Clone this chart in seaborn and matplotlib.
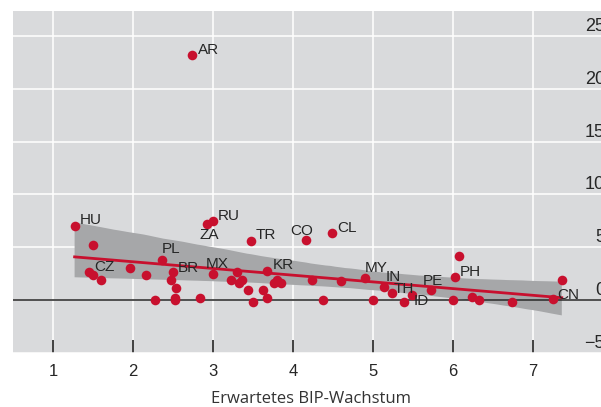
import numpy as np
import pandas as pd
import matplotlib
matplotlib.use("Agg")
import matplotlib.pyplot as plt
import seaborn as sns
from matplotlib.collections import PolyCollection

# data
growth = [1.27, 1.50, 1.45, 1.50, 1.60, 1.96, 2.16, 2.36, 2.28, 2.50,
          2.48, 2.54, 2.53, 2.53, 2.74, 2.84, 2.93, 3.00, 3.00, 3.22,
          3.30, 3.32, 3.36, 3.44, 3.47, 3.50, 3.63, 3.68, 3.68, 3.76,
          3.80, 3.85, 4.16, 4.24, 4.38, 4.49, 4.60, 4.90, 5.00, 5.14,
          5.24, 5.39, 5.49, 5.72, 6.00, 6.02, 6.08, 6.24, 6.33, 6.74,
          7.25, 7.36]
values = [7.0, 5.2, 2.67, 2.36, 1.92, 3.02, 2.42, 3.84, 0.0, 2.70,
          1.89, 1.13, 0.25, 0.0, 23.2, 0.19, 7.17, 7.48, 2.45, 1.92,
          2.70, 1.67, 1.86, 0.94, 5.57, -0.19, 1.00, 0.19, 2.74, 1.6,
          1.9, 1.6, 5.69, 1.89, 0.0, 6.38, 1.82, 2.10, 0.0, 1.29,
          0.66, -0.19, 0.50, 0.94, 0.0, 2.23, 4.18, 0.28, 0.0, -0.19,
          0.1, 1.89]
codes = ["HU", "", "CZ", "", "", "", "", "PL", "", "BR",
         "", "", "", "", "AR", "", "ZA", "RU", "MX", "",
         "", "", "", "", "TR", "", "", "", "KR", "",
         "", "", "CO", "", "", "CL", "", "MY", "", "IN",
         "TH", "", "ID", "PE", "", "PH", "", "", "", "",
         "CN", ""]
y_ticks = [25, 20, 15, 10, 5, 0, -5]
x_ticks = [1, 2, 3, 4, 5, 6, 7]

df = pd.DataFrame({"growth": growth, "value": values, "code": codes})

# label placement (pixels from the point, alignment)
label_pos = {
    "AR": (6, 5, "left"), "HU": (5, 6, "left"), "CZ": (5, 5, "left"),
    "PL": (0, 11, "left"), "BR": (5, 4, "left"), "MX": (4, 10.5, "center"),
    "RU": (5, 5, "left"), "ZA": (2, -10.5, "center"), "TR": (5, 6, "left"),
    "CO": (-4.5, 9, "center"), "CL": (5, 5, "left"), "KR": (5, 6, "left"),
    "MY": (0, 10, "left"), "IN": (1, 10, "left"), "TH": (1, 4, "left"),
    "ID": (1, -6, "left"), "PE": (2, 9.5, "center"), "PH": (5, 5, "left"),
    "CN": (4, 4, "left"),
}

red = "#c8102e"
bg = "#d9dadc"
band = "#a6a7a9"
txt = "#262626"

plt.rcParams["font.family"] = ["Liberation Sans", "DejaVu Sans"]

fig = plt.figure(figsize=(6.01, 4.07), dpi=100)
# axes runs past the right edge of the figure, like the cropped original
ax = fig.add_axes([13 / 601, 54 / 407, 607 / 601, 342 / 407])
ax.set_facecolor(bg)

sns.regplot(data=df, x="growth", y="value", ax=ax, color=red, ci=99,
            n_boot=5000, seed=3, truncate=True,
            scatter_kws=dict(s=48, linewidths=0, alpha=1, zorder=4),
            line_kws=dict(lw=2, zorder=3))

for c in ax.collections:
    if isinstance(c, PolyCollection):
        c.set_facecolor(band)
        c.set_edgecolor("none")
        c.set_alpha(1)
        c.set_zorder(1.5)

ax.axhline(0, color="#333333", lw=1.2, zorder=2.5)

ax.set_xlim(0.5, 0.5 + 607 / 80)
ax.set_ylim(-4.906, 27.36)
ax.set_xticks(x_ticks)
ax.set_yticks(y_ticks)
ax.grid(color="white", lw=1.1)
ax.set_axisbelow(True)
for s in ax.spines.values():
    s.set_visible(False)

ax.tick_params(axis="x", direction="in", length=9.5, width=1.2,
               color="#222222", labelsize=12, labelcolor=txt, pad=8)
ax.tick_params(axis="y", length=0, labelleft=False, labelright=False)

for v in y_ticks:
    lab = str(v) if v >= 0 else "\u2212" + str(-v)
    ax.annotate(lab, xy=(1, v), xycoords=("axes fraction", "data"),
                xytext=(-15, 5), textcoords="offset pixels",
                ha="right", va="baseline", fontsize=13, color=txt)

for x, y, c in zip(growth, values, codes):
    if c:
        dx, dy, ha = label_pos[c]
        ax.annotate(c, xy=(x, y), xytext=(dx, dy), textcoords="offset pixels",
                    ha=ha, va="center", fontsize=11, color=txt, zorder=5)

ax.set_xlabel("Erwartetes BIP-Wachstum", fontsize=12, color="#333333",
              family=["Open Sans", "DejaVu Sans"])
ax.set_ylabel("")
ax.xaxis.set_label_coords((311 - 13) / 607, (353 - 399) / 342)
ax.xaxis.label.set_va("center")

fig.savefig("out.png", dpi=100)
